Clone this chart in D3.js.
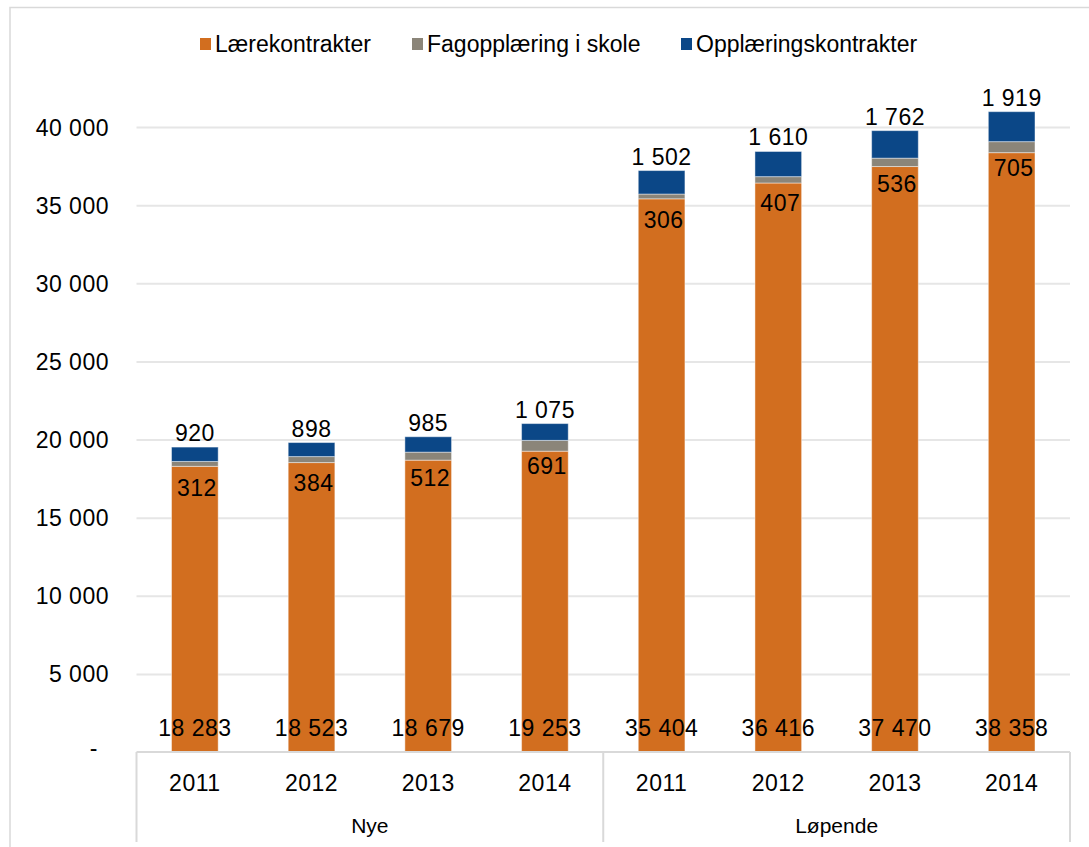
<!DOCTYPE html>
<html>
<head>
<meta charset="utf-8">
<script src="https://cdn.jsdelivr.net/npm/d3@7"></script>
<style>
  body { margin: 0; background: #fff; }
  text { font-family: "Liberation Sans", Arial, sans-serif; fill: #000; }
</style>
</head>
<body>
<svg width="1089" height="847"></svg>
<script>
var years = ["2011", "2012", "2013", "2014", "2011", "2012", "2013", "2014"];
var groups = ["Nye", "Løpende"];
var laere = [18283, 18523, 18679, 19253, 35404, 36416, 37470, 38358];
var fag = [312, 384, 512, 691, 306, 407, 536, 705];
var oppl = [920, 898, 985, 1075, 1502, 1610, 1762, 1919];
var yTicks = [0, 5000, 10000, 15000, 20000, 25000, 30000, 35000, 40000];
var seriesNames = ["Lærekontrakter", "Fagopplæring i skole", "Opplæringskontrakter"];
var colors = ["#d26e1f", "#8b8579", "#0b4787"];

var svg = d3.select("svg");
var plotLeft = 136.5, plotRight = 1070, plotTop = 127, plotBottom = 752;
var numSize = "23px", numSpacing = "0.5px";

var nb = d3.formatLocale({decimal: ",", thousands: " ", grouping: [3], currency: ["", ""]});
var fmt = nb.format(",");

// chart frame
svg.append("path")
    .attr("d", "M10,847 V7.5 H1089")
    .attr("fill", "none")
    .attr("stroke", "#d9d9d9")
    .attr("stroke-width", 1.5);

var x = d3.scaleBand()
    .domain(d3.range(years.length))
    .range([plotLeft, plotRight])
    .padding(0);

var y = d3.scaleLinear()
    .domain([0, 40000])
    .range([plotBottom, plotTop]);

// gridlines
svg.append("g")
    .attr("transform", "translate(" + plotLeft + ",0)")
    .call(d3.axisLeft(y).tickValues(yTicks.slice(1)).tickSize(-(plotRight - plotLeft)).tickFormat(""))
    .call(function(g) {
        g.select(".domain").remove();
        g.selectAll("line").attr("stroke", "#e6e6e6").attr("stroke-width", 2);
    });

// y tick labels
svg.append("g")
    .attr("transform", "translate(109,0)")
    .call(d3.axisLeft(y).tickValues(yTicks).tickSize(0).tickPadding(0)
        .tickFormat(function(d) { return d === 0 ? "-" : fmt(d); }))
    .call(function(g) {
        g.select(".domain").remove();
        g.selectAll("text")
            .style("font-size", numSize)
            .style("font-family", "'Liberation Sans', Arial, sans-serif")
            .attr("letter-spacing", numSpacing)
            .attr("fill", "#000")
            .attr("dx", function(d) { return d === 0 ? -11 : 0; })
            .attr("dy", function(d) { return d === 0 ? "0.15em" : "0.35em"; });
    });

// stacked data
var stacks = years.map(function(yr, i) {
    return [
        {s: 0, y0: 0, y1: laere[i], v: laere[i]},
        {s: 1, y0: laere[i], y1: laere[i] + fag[i], v: fag[i]},
        {s: 2, y0: laere[i] + fag[i], y1: laere[i] + fag[i] + oppl[i], v: oppl[i]}
    ];
});

var barW = x.bandwidth() * 0.4;

var cat = svg.selectAll(".cat")
    .data(stacks)
    .enter()
    .append("g")
    .attr("transform", function(d, i) { return "translate(" + (x(i) + x.bandwidth() / 2) + ",0)"; });

cat.selectAll("rect")
    .data(function(d) { return d; })
    .enter()
    .append("rect")
    .attr("x", -barW / 2)
    .attr("width", barW)
    .attr("y", function(d) { return y(d.y1); })
    .attr("height", function(d) { return y(d.y0) - y(d.y1); })
    .attr("fill", function(d) { return colors[d.s]; })
    .attr("stroke", "rgba(255,255,255,0.45)")
    .attr("stroke-width", 1);

// labels
cat.append("text")
    .attr("text-anchor", "middle")
    .attr("y", plotBottom - 16)
    .style("font-size", numSize)
    .attr("letter-spacing", numSpacing)
    .text(function(d) { return fmt(d[0].v); });

cat.append("text")
    .attr("text-anchor", "middle")
    .attr("x", 2)
    .attr("y", function(d) { return y(d[1].y1) + 26; })
    .attr("dy", "0.35em")
    .style("font-size", numSize)
    .attr("letter-spacing", numSpacing)
    .text(function(d) { return fmt(d[1].v); });

cat.append("text")
    .attr("text-anchor", "middle")
    .attr("y", function(d) { return y(d[2].y1) - 6; })
    .style("font-size", numSize)
    .attr("letter-spacing", numSpacing)
    .text(function(d) { return fmt(d[2].v); });

// category axis
var axisColor = "#d9d9d9";
svg.append("line")
    .attr("x1", plotLeft).attr("x2", plotRight)
    .attr("y1", plotBottom).attr("y2", plotBottom)
    .attr("stroke", axisColor).attr("stroke-width", 2);

var mid = x(4);
[plotLeft, mid, plotRight].forEach(function(xx) {
    svg.append("line")
        .attr("x1", xx).attr("x2", xx)
        .attr("y1", plotBottom).attr("y2", 842)
        .attr("stroke", axisColor).attr("stroke-width", 2);
});

svg.selectAll(".year")
    .data(years)
    .enter()
    .append("text")
    .attr("text-anchor", "middle")
    .attr("x", function(d, i) { return x(i) + x.bandwidth() / 2; })
    .attr("y", 783)
    .attr("dy", "0.35em")
    .style("font-size", numSize)
    .attr("letter-spacing", numSpacing)
    .text(function(d) { return d; });

svg.selectAll(".grp")
    .data(groups)
    .enter()
    .append("text")
    .attr("text-anchor", "middle")
    .attr("x", function(d, i) { return i === 0 ? (plotLeft + mid) / 2 : (mid + plotRight) / 2; })
    .attr("y", 826)
    .attr("dy", "0.35em")
    .style("font-size", "21px")
    .text(function(d) { return d; });

// legend
var legX = [200, 412, 681];
var leg = svg.selectAll(".leg")
    .data(seriesNames)
    .enter()
    .append("g")
    .attr("transform", function(d, i) { return "translate(" + legX[i] + ",44)"; });

leg.append("rect")
    .attr("x", 0).attr("y", -6)
    .attr("width", 11).attr("height", 12)
    .attr("fill", function(d, i) { return colors[i]; });

leg.append("text")
    .attr("x", 15)
    .attr("dy", "0.35em")
    .style("font-size", "23px")
    .text(function(d) { return d; });
</script>
</body>
</html>
